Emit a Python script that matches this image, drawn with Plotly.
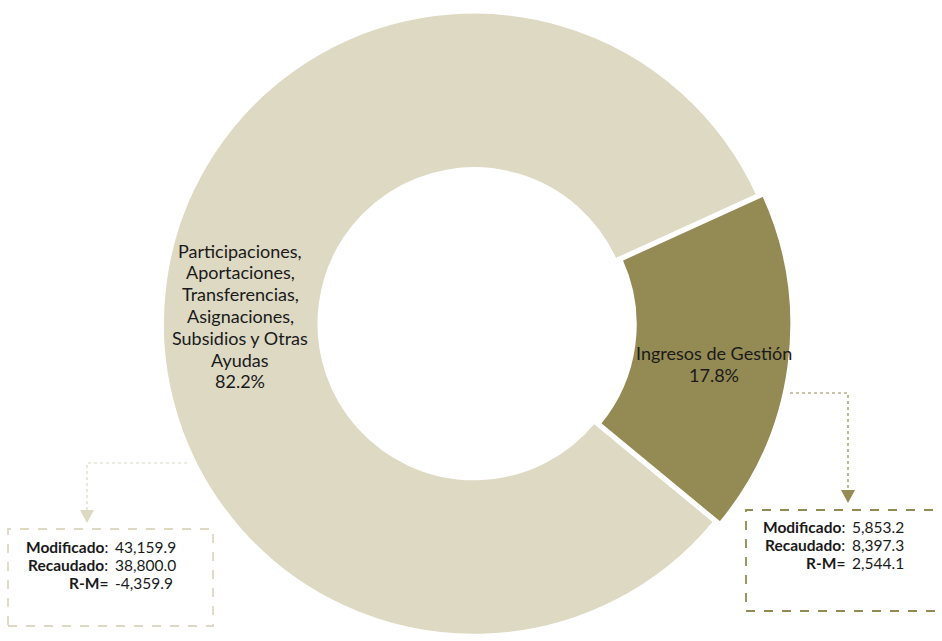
import plotly.graph_objects as go

# data
labels = ["Ingresos de Gestión",
          "Participaciones,<br>Aportaciones,<br>Transferencias,<br>Asignaciones,<br>Subsidios y Otras<br>Ayudas"]
recaudado = [8397.3, 38800.0]
modificado = [5853.2, 43159.9]
colors = ["#948A54", "#DDD9C3"]

W, H = 942, 641
TXT = "#1a1a1a"


def px(x, y):
    return x / W, 1 - y / H


fig = go.Figure(go.Pie(
    labels=labels,
    values=recaudado,
    sort=False,
    direction="clockwise",
    rotation=65.5,
    hole=0.5,
    pull=[0.02, 0],
    marker=dict(colors=colors, line=dict(color="white", width=2)),
    textinfo="none",
    domain=dict(x=[0.5032 - 0.36, 0.5032 + 0.36], y=[0, 0.99]),
    hoverinfo="label+value+percent",
    showlegend=False,
))

# slice labels, one annotation per line to keep the tight line spacing
total = sum(recaudado)
label_pos = [(714, 364), (240, 316)]
line_gap = 21.8
anns = []
for lab, val, (x, y) in zip(labels, recaudado, label_pos):
    lines = lab.split("<br>") + [f"{val / total * 100:.1f}%"]
    y0 = y - line_gap * (len(lines) - 1) / 2
    for i, ln in enumerate(lines):
        ax, ay = px(x, y0 + i * line_gap)
        anns.append(dict(x=ax, y=ay, xref="paper", yref="paper", showarrow=False,
                         xanchor="center", yanchor="middle", text=ln,
                         font=dict(family="Lato", size=18, color=TXT)))


def box(x0, y0, x1, y1, color, mod, rec, lab_right, rows_y):
    shapes = [dict(type="rect", xref="paper", yref="paper",
                   x0=px(x0, 0)[0], x1=px(x1, 0)[0], y0=px(0, y1)[1], y1=px(0, y0)[1],
                   line=dict(color=color, width=1.8, dash="dash"))]
    rm = rec - mod
    names = ["Modificado", "Recaudado", "R-M="]
    seps = [":", ":", ""]
    vals = [f"{mod:,.1f}", f"{rec:,.1f}", f"{rm:,.1f}"]
    out = []
    for name, sep, v, ry in zip(names, seps, vals, rows_y):
        lx, ly = px(lab_right, ry)
        out.append(dict(x=lx, y=ly, xref="paper", yref="paper", xanchor="right",
                        yanchor="middle", showarrow=False, text=f"<b>{name}</b>{sep}",
                        font=dict(family="Lato", size=15.5, color=TXT)))
        out.append(dict(x=lx + 3 / W, y=ly, xref="paper", yref="paper", xanchor="left",
                        yanchor="middle", showarrow=False, text=v,
                        font=dict(family="Lato", size=15.5, color=TXT)))
    return shapes, out


def connector(pts, tip, color, width):
    path = "M " + " L ".join(f"{px(x, y)[0]},{px(x, y)[1]}" for x, y in pts)
    tx, ty = tip
    tri = [(tx - 7, ty - 13), (tx + 7, ty - 13), (tx, ty)]
    tpath = "M " + " L ".join(f"{px(x, y)[0]},{px(x, y)[1]}" for x, y in tri) + " Z"
    return [
        dict(type="path", xref="paper", yref="paper", path=path,
             line=dict(color=color, width=width, dash="dot")),
        dict(type="path", xref="paper", yref="paper", path=tpath,
             fillcolor=color, line=dict(color=color, width=0)),
    ]


s1, a1 = box(8, 529, 213, 626, "#DDD9C3", modificado[1], recaudado[1], 110, [547, 565, 583])
s2, a2 = box(746, 510, 960, 611, "#948A54", modificado[0], recaudado[0], 847, [527, 545, 563])
shapes = s1 + s2
shapes += connector([(187, 463), (87, 463), (87, 512)], (87, 523), "#DDD9C3", 1.2)
shapes += connector([(790, 393), (848, 393), (848, 492)], (848, 503), "#948A54", 1.2)

fig.update_layout(
    width=W, height=H,
    margin=dict(l=0, r=0, t=0, b=0),
    paper_bgcolor="white",
    plot_bgcolor="white",
    font=dict(family="Lato"),
    shapes=shapes,
    annotations=anns + a1 + a2,
)

fig.write_html("out.html", config={"displayModeBar": False},
               post_script="document.body.style.margin='0';")
